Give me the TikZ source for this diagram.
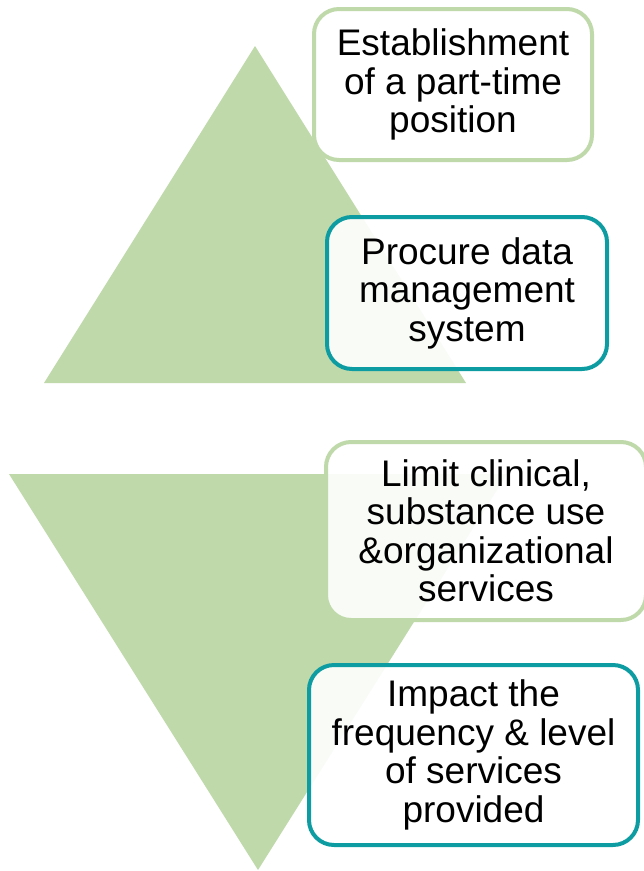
\documentclass[tikz,border=0pt]{standalone}
\usepackage{fontspec}
\setmainfont{Liberation Sans}
\usepackage{tikz}
\definecolor{color1}{rgb}{0.75, 0.85, 0.67}
\definecolor{color2}{rgb}{0.05, 0.61, 0.63}
\tikzset{stagebox/.style = {line width = 4pt, rounded corners = 25pt, fill = white, fill opacity = 0.9, text opacity = 1, align = center, font = \fontsize{37}{38.5}\selectfont, inner sep = 0pt}}
\begin{document}
\begin{tikzpicture}[x = 1pt, y = -1pt]
\useasboundingbox (0, 0) rectangle (644, 871);

\fill [color1] (255, 46) -- (466, 383) -- (44, 383) -- cycle;
\fill [color1] (9, 474) -- (507, 474) -- (258, 870) -- cycle;

\node [stagebox, draw = color1, minimum width = 278pt, minimum height = 151pt] (est) at (453, 84.5) {Establishment\\of a part-time\\position};
\node [stagebox, draw = color2, minimum width = 280pt, minimum height = 152pt] (proc) at (467, 293) {Procure data\\management\\system};
\node [stagebox, draw = color1, minimum width = 320pt, minimum height = 178pt] (lim) at (486, 531) {Limit clinical,\\substance use\\\&organizational\\services};
\node [stagebox, draw = color2, minimum width = 329pt, minimum height = 180pt] (imp) at (473.5, 755) {Impact the\\frequency \& level\\of services\\provided};
\end{tikzpicture}
\end{document}
